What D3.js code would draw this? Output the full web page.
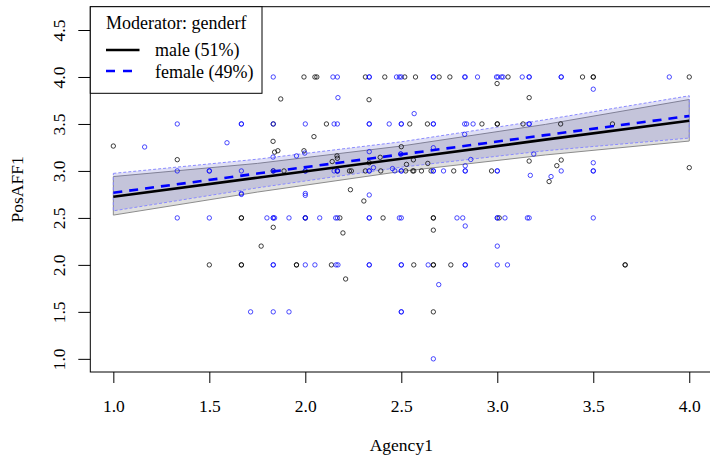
<!DOCTYPE html>
<html>
<head>
<meta charset="utf-8">
<script src="https://cdn.jsdelivr.net/npm/d3@7"></script>
<style>
 body { margin: 0; background: #fff; }
 svg text { font-family: "Liberation Serif", "Times New Roman", serif; fill: #000; }
</style>
</head>
<body>
<div id="chart"></div>
<script>
// tick labels
var xTicks = [1.0, 1.5, 2.0, 2.5, 3.0, 3.5, 4.0];
var yTicks = [1.0, 1.5, 2.0, 2.5, 3.0, 3.5, 4.0, 4.5];

// legend entries
var groups = ['male (51%)', 'female (49%)'];

// fitted lines (Agency1 -> PosAFF1)
var fitX = [1.0, 1.75, 2.5, 3.25, 4.0];
var maleFit = [2.725, 2.928, 3.13, 3.333, 3.535];
var maleLower = [2.53, 2.775, 2.995, 3.17, 3.318];
var maleUpper = [2.94, 3.08, 3.265, 3.495, 3.76];
var femaleFit = [2.768, 2.972, 3.176, 3.381, 3.585];
var femaleLower = [2.575, 2.82, 3.04, 3.215, 3.35];
var femaleUpper = [2.974, 3.125, 3.31, 3.545, 3.80];

// observed points, male (black)
var malePoints = [
 [1.993,4.0],[2.05,4.0],[2.06,4.0],[2.313,4.0],[2.414,4.0],[2.518,4.0],[2.574,4.0],[2.697,4.0],
 [2.753,4.0],[3.056,4.0],[3.444,4.0],[3.5,4.0],[3.5,4.0],[4.0,4.0],
 [2.999,3.93],[1.872,3.766],[2.332,3.758],[3.166,3.78],
 [1.833,3.5],[2.11,3.5],[2.544,3.5],[2.636,3.5],[2.92,3.5],[3.0,3.5],[3.0,3.5],[3.134,3.5],[3.33,3.5],[3.60,3.5],
 [2.045,3.365],[1.0,3.265],[1.832,3.315],[1.333,3.12],[1.84,3.20],[1.857,3.215],[1.993,3.215],[2.14,3.10],
 [2.165,3.16],[2.167,3.135],[2.39,3.145],[2.5,3.258],[2.563,3.118],[2.527,3.07],[2.333,3.087],[2.638,3.08],
 [3.166,3.105],[3.333,3.116],[3.31,3.056],[3.27,2.887],[4.0,3.035],[2.235,2.80],[2.305,2.68],
 [1.833,3.0],[1.889,3.0],[2.167,3.0],[2.23,3.0],[2.24,3.0],[2.313,3.0],[2.393,3.0],[2.523,3.0],[2.56,3.0],
 [2.565,3.0],[2.605,3.0],[2.655,3.0],[2.773,3.0],[2.97,3.0],
 [1.667,2.5],[1.667,2.5],[2.0,2.5],[2.18,2.5],[2.405,2.5],[2.667,2.5],[2.667,2.5],[3.01,2.5],
 [1.833,2.4],[1.77,2.2],[2.196,2.34],[2.667,2.37],
 [1.5,2.0],[1.667,2.0],[1.667,2.0],[1.954,2.0],[1.954,2.0],[2.136,2.0],[2.565,2.0],[2.667,2.0],[2.667,2.0],
 [2.758,2.0],[3.666,2.0],[3.666,2.0],[2.21,1.85],[2.667,1.5]
];

// observed points, female (blue)
var femalePoints = [
 [1.833,4.0],[2.144,4.0],[2.167,4.0],[2.333,4.0],[2.333,4.0],[2.475,4.0],[2.49,4.0],[2.5,4.0],[2.667,4.0],
 [2.667,4.0],[2.83,4.0],[2.833,4.0],[2.897,4.0],[2.996,4.0],[3.004,4.0],[3.022,4.0],[3.03,4.0],[3.13,4.0],
 [3.166,4.0],[3.166,4.0],[3.333,4.0],[3.333,4.0],[3.896,4.0],
 [2.17,3.78],[3.5,3.87],[2.567,3.61],[2.83,3.39],
 [1.333,3.5],[1.667,3.5],[1.667,3.5],[1.833,3.5],[2.0,3.5],[2.15,3.5],[2.167,3.5],[2.333,3.5],[2.333,3.5],
 [2.437,3.5],[2.5,3.5],[2.5,3.5],[2.667,3.5],[2.667,3.5],[2.83,3.5],[2.84,3.5],[2.874,3.5],[3.166,3.5],[3.166,3.5],
 [1.163,3.255],[1.592,3.30],[1.832,3.148],[1.954,3.16],[1.997,3.19],[2.333,3.205],[2.497,3.18],[2.497,3.18],
 [2.667,3.247],[2.355,3.035],[2.454,3.025],[2.862,3.122],[2.833,3.055],[3.19,3.18],[3.5,3.087],[3.172,2.953],[3.28,2.94],
 [1.333,3.0],[1.5,3.0],[1.5,3.0],[1.667,3.0],[1.833,3.0],[2.0,3.0],[2.0,3.0],[2.15,3.0],[2.167,3.0],[2.167,3.0],
 [2.333,3.0],[2.333,3.0],[2.466,3.0],[2.5,3.0],[2.5,3.0],[2.667,3.0],[2.667,3.0],[2.72,3.0],[2.833,3.0],[2.833,3.0],
 [3.0,3.0],[3.0,3.0],[3.333,3.0],[3.5,3.0],[3.5,3.0],
 [1.667,2.76],[1.667,2.75],[2.0,2.76],[2.0,2.74],[2.333,2.744],
 [1.333,2.5],[1.5,2.5],[1.8,2.5],[1.833,2.5],[1.833,2.5],[1.84,2.5],[1.915,2.5],[2.0,2.5],[2.0,2.5],[2.075,2.5],
 [2.158,2.5],[2.167,2.5],[2.333,2.5],[2.333,2.5],[2.49,2.5],[2.5,2.5],[2.79,2.5],[2.82,2.5],[3.0,2.5],[3.0,2.5],
 [3.04,2.5],[3.157,2.5],[3.166,2.5],[3.5,2.5],
 [2.833,2.414],[3.0,2.2],
 [1.833,2.0],[1.833,2.0],[2.0,2.0],[2.05,2.0],[2.16,2.0],[2.17,2.0],[2.333,2.0],[2.333,2.0],[2.5,2.0],[2.5,2.0],
 [2.64,2.0],[2.833,2.0],[2.833,2.0],[3.0,2.0],[3.053,2.0],
 [2.695,1.79],[1.715,1.5],[1.833,1.5],[1.915,1.5],[2.5,1.5],[2.5,1.5],[2.667,1.0]
];

var width = 710, height = 457;
var plotLeft = 90.3, plotRight = 712.3, plotTop = 6.7, plotBottom = 372;

var svg = d3.select('#chart').append('svg')
 .attr('width', width).attr('height', height);

var x = d3.scaleLinear().domain([0.88, 4.12]).range([plotLeft, plotRight]);
var y = d3.scaleLinear().domain([0.86, 4.748]).range([plotBottom, plotTop]);

// confidence bands
function band(lower, upper)
{
 var pts = fitX.map(function(d, i){ return [x(d), y(upper[i])]; });
 for(var i = fitX.length - 1; i >= 0; i--)
 {
  pts.push([x(fitX[i]), y(lower[i])]);
 }
 return 'M' + pts.join('L') + 'Z';
}

svg.append('path').attr('d', band(maleLower, maleUpper))
 .style('fill', 'rgba(128,128,128,0.25)')
 .style('stroke', '#8c8c8c').style('stroke-width', 1);
svg.append('path').attr('d', band(femaleLower, femaleUpper))
 .style('fill', 'rgba(80,80,200,0.18)')
 .style('stroke', '#8a8aff').style('stroke-width', 1).style('stroke-dasharray', '3,2');

// points
svg.append('g').selectAll('circle').data(malePoints).enter().append('circle')
 .attr('cx', function(d){ return x(d[0]); })
 .attr('cy', function(d){ return y(d[1]); })
 .attr('r', 2.2)
 .style('fill', 'none').style('stroke', 'rgba(0,0,0,0.75)').style('stroke-width', 1);
svg.append('g').selectAll('circle').data(femalePoints).enter().append('circle')
 .attr('cx', function(d){ return x(d[0]); })
 .attr('cy', function(d){ return y(d[1]); })
 .attr('r', 2.2)
 .style('fill', 'none').style('stroke', 'rgba(0,0,255,0.7)').style('stroke-width', 1);

// fitted lines
var line = d3.line().x(function(d){ return x(d[0]); }).y(function(d){ return y(d[1]); });
svg.append('path').attr('d', line(fitX.map(function(d, i){ return [d, maleFit[i]]; })))
 .style('fill', 'none').style('stroke', '#000').style('stroke-width', 2.6);
svg.append('path').attr('d', line(fitX.map(function(d, i){ return [d, femaleFit[i]]; })))
 .style('fill', 'none').style('stroke', '#0000ff').style('stroke-width', 2.6)
 .style('stroke-dasharray', '9,7');

// axes
var xAxis = svg.append('g').attr('transform', 'translate(0,' + plotBottom + ')')
 .call(d3.axisBottom(x).tickValues(xTicks).tickFormat(d3.format('.1f')).tickSize(11));
xAxis.select('.domain').remove();
xAxis.selectAll('text').attr('y', 39.5).attr('dy', null)
 .style('font-size', '17.5px').style('font-family', '"Liberation Serif", serif');

var yAxis = svg.append('g').attr('transform', 'translate(' + plotLeft + ',0)')
 .call(d3.axisLeft(y).tickValues(yTicks).tickFormat(d3.format('.1f')).tickSize(12));
yAxis.select('.domain').remove();
yAxis.selectAll('text').attr('x', null).attr('dy', null)
 .attr('transform', 'translate(' + (65 - plotLeft) + ',0) rotate(-90)')
 .attr('text-anchor', 'middle')
 .style('font-size', '17.5px').style('font-family', '"Liberation Serif", serif');
svg.selectAll('.tick line').style('stroke', '#000');

// plot box
svg.append('rect').attr('x', plotLeft).attr('y', plotTop)
 .attr('width', plotRight - plotLeft).attr('height', plotBottom - plotTop)
 .style('fill', 'none').style('stroke', '#000').style('stroke-width', 1);

// axis titles
svg.append('text').attr('x', (plotLeft + plotRight) / 2).attr('y', 451)
 .attr('text-anchor', 'middle').style('font-size', '17.5px').text('Agency1');
svg.append('text').attr('transform', 'translate(23,' + ((plotTop + plotBottom) / 2) + ') rotate(-90)')
 .attr('text-anchor', 'middle').style('font-size', '17.5px').text('PosAFF1');

// legend
var legend = svg.append('g');
legend.append('rect').attr('x', plotLeft).attr('y', plotTop)
 .attr('width', 262 - plotLeft).attr('height', 93.3 - plotTop)
 .style('fill', '#fff').style('stroke', '#000').style('stroke-width', 1);
legend.append('text').attr('x', 106).attr('y', 28.5).style('font-size', '18px')
 .text('Moderator: genderf');
legend.append('line').attr('x1', 106).attr('x2', 139.5).attr('y1', 50).attr('y2', 50)
 .style('stroke', '#000').style('stroke-width', 2.6);
legend.append('line').attr('x1', 106).attr('x2', 139.5).attr('y1', 71).attr('y2', 71)
 .style('stroke', '#0000ff').style('stroke-width', 2.6).style('stroke-dasharray', '9,8');
legend.append('text').attr('x', 155).attr('y', 56).style('font-size', '18px').text(groups[0]);
legend.append('text').attr('x', 155).attr('y', 77.5).style('font-size', '18px').text(groups[1]);
</script>
</body>
</html>
